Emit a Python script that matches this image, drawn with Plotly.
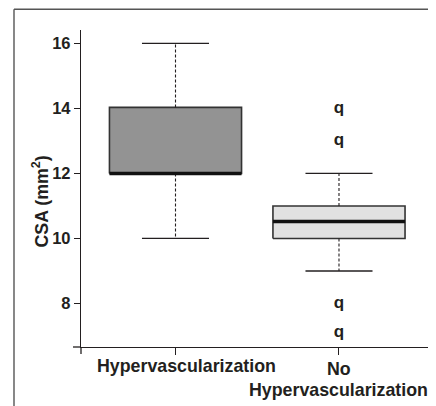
import plotly.graph_objects as go

# ---- data ----
groups = ["Hypervascularization", "No Hypervascularization"]
q1 = [12.0, 10.0]
median = [12.0, 10.52]
q3 = [14.03, 11.0]
lower_whisker = [10.0, 9.0]
upper_whisker = [16.0, 12.0]
outlier_group = [1, 1, 1, 1]
outlier_values = [14.0, 13.0, 8.0, 7.1]
y_ticks = [8, 10, 12, 14, 16]

fills = ["#939393", "#e1e1e1"]
ink = "#231f20"
box_line = "#333333"
font_family = "Liberation Sans, Arial, Helvetica, sans-serif"
hw = 0.404   # box half width (category units)
cw = 0.205   # whisker cap half width

fig = go.Figure()
for i in range(len(groups)):
    # box
    fig.add_trace(go.Scatter(
        x=[i - hw, i + hw, i + hw, i - hw, i - hw],
        y=[q1[i], q1[i], q3[i], q3[i], q1[i]],
        mode="lines", fill="toself", fillcolor=fills[i],
        line=dict(color=box_line, width=1.6), hoverinfo="skip"))
    # whiskers (dashed)
    fig.add_trace(go.Scatter(
        x=[i, i, None, i, i],
        y=[q3[i], upper_whisker[i], None, q1[i], lower_whisker[i]],
        mode="lines", line=dict(color=ink, width=1.1, dash="3px,2px"),
        hoverinfo="skip"))
    # caps
    fig.add_trace(go.Scatter(
        x=[i - cw, i + cw, None, i - cw, i + cw],
        y=[upper_whisker[i], upper_whisker[i], None, lower_whisker[i], lower_whisker[i]],
        mode="lines", line=dict(color=ink, width=1.3), hoverinfo="skip"))
    # median
    fig.add_trace(go.Scatter(
        x=[i - hw, i + hw], y=[median[i], median[i]],
        mode="lines", line=dict(color="#111111", width=3.4), hoverinfo="skip"))

# outliers drawn as "q" glyphs
fig.add_trace(go.Scatter(
    x=outlier_group, y=outlier_values, mode="text", text=["q"] * len(outlier_values),
    textposition="middle center",
    textfont=dict(family=font_family, size=17, color=ink, weight="bold"),
    hoverinfo="skip"))

# page body has an 8px margin, so the figure is shrunk and shifted by it
OFF = 8
W, H = 436 - OFF, 406 - OFF
L, R, T = 81 - OFF, 3, 30 - OFF
B = H - (347 - OFF)
pw, ph = W - L - R, H - T - B

def px_x(ref_px):
    return (ref_px - OFF - L) / pw

def px_y(ref_py):
    return (H - B - (ref_py - OFF)) / ph

fig.update_layout(
    width=W, height=H,
    margin=dict(l=L, r=R, t=T, b=B),
    paper_bgcolor="white", plot_bgcolor="white",
    showlegend=False,
    xaxis=dict(range=[-0.578, 1.575], tickvals=[0, 1], showticklabels=False,
               showgrid=False, zeroline=False, showline=True, linecolor=ink, linewidth=1.3,
               ticks="outside", ticklen=7, tickwidth=1.2, tickcolor=ink, fixedrange=True),
    yaxis=dict(range=[6.663, 16.41], tickvals=y_ticks, ticktext=[str(v) for v in y_ticks],
               showgrid=False, zeroline=False, showline=True, linecolor=ink, linewidth=1.3,
               ticks="outside", ticklen=6, tickwidth=1.2, tickcolor=ink,
               tickfont=dict(family=font_family, size=16.5, color=ink, weight="bold"),
               fixedrange=True),
)

# axis line extensions (cross at the origin) and outer frame
shapes = [
    dict(type="line", xref="paper", yref="paper", x0=0, x1=0, y0=px_y(354), y1=0,
         line=dict(color=ink, width=1.3)),
    dict(type="line", xref="paper", yref="paper", x0=px_x(73), x1=0, y0=0, y1=0,
         line=dict(color=ink, width=1.3)),
    dict(type="line", xref="paper", yref="paper", x0=px_x(14), x1=px_x(440),
         y0=px_y(9.3), y1=px_y(9.3), line=dict(color="#555555", width=1.4)),
    dict(type="line", xref="paper", yref="paper", x0=px_x(14), x1=px_x(14),
         y0=px_y(9.3), y1=px_y(410), line=dict(color="#555555", width=1.4)),
]
fig.update_layout(shapes=shapes)

lab_font = dict(family=font_family, size=17.8, color=ink, weight="bold")
base = 347  # reference pixel row of the x axis
annotations = [
    dict(text="Hypervascularization", x=0, y=0, xref="x", yref="paper",
         xshift=11, yshift=-(365.5 - base), xanchor="center", yanchor="middle",
         showarrow=False, font=lab_font),
    dict(text="No", x=1, y=0, xref="x", yref="paper",
         yshift=-(368.5 - base), xanchor="center", yanchor="middle",
         showarrow=False, font=lab_font),
    dict(text="Hypervascularization", x=1, y=0, xref="x", yref="paper",
         yshift=-(389.5 - base), xanchor="center", yanchor="middle",
         showarrow=False, font=lab_font),
    dict(text="CSA (mm<sup>2</sup>)", x=px_x(40), y=px_y(201.5), xref="paper", yref="paper",
         textangle=-90, xanchor="center", yanchor="middle", showarrow=False,
         font=dict(family=font_family, size=17.8, color=ink, weight="bold")),
]
fig.update_layout(annotations=annotations)

fig.write_html("out.html")
